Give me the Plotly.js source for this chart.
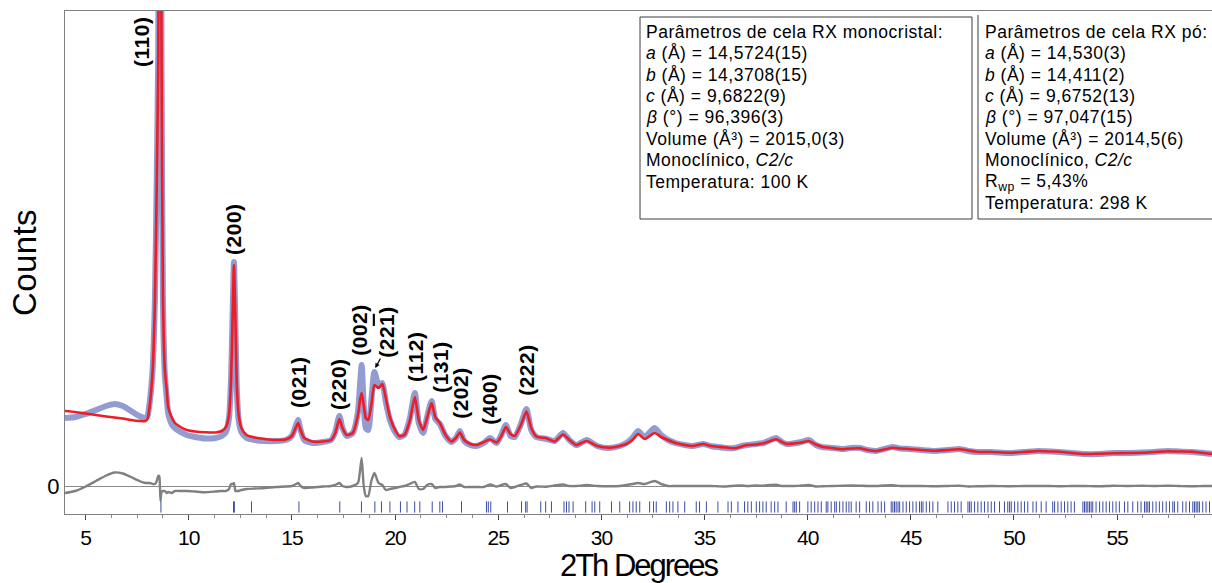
<!DOCTYPE html>
<html>
<head>
<meta charset="utf-8">
<script src="https://cdn.plot.ly/plotly-3.0.1.min.js"></script>
<style>
  html, body { margin: 0; padding: 0; background: #fff; }
  #chart { width: 1212px; height: 583px; }
  .annotation-text { letter-spacing: 0.5px; }
  .xtitle { letter-spacing: -2px; }
  .ytitle { letter-spacing: 0.4px; }
  .xtick text { letter-spacing: -1px; }
</style>
</head>
<body>
<div id="chart"></div>
<script>
// Powder pattern: 2θ grid, calculated (Rietveld fit) and observed counts
const twoTheta = [
  4.0, 4.5, 5.0, 5.5, 6.0, 6.4, 6.8, 7.2, 7.6, 7.9,
  8.0, 8.12, 8.25, 8.36, 8.45, 8.52, 8.57, 8.6, 8.63, 8.68,
  8.75, 8.84, 8.93, 9.0, 9.17, 9.33, 9.6, 9.9, 10.3, 10.8,
  11.3, 11.6, 11.8, 11.95, 12.05, 12.12, 12.19, 12.26, 12.33, 12.42,
  12.55, 12.8, 13.2, 13.7, 14.2, 14.7, 15.0, 15.2, 15.3, 15.42,
  15.6, 16.0, 16.5, 16.9, 17.1, 17.3, 17.45, 17.65, 17.95, 18.2,
  18.3, 18.38, 18.48, 18.58, 18.7, 18.85, 19.0, 19.2, 19.38, 19.55,
  19.75, 20.0, 20.2, 20.45, 20.7, 20.96, 21.15, 21.36, 21.55, 21.77,
  21.95, 22.17, 22.45, 22.73, 22.95, 23.14, 23.35, 23.65, 23.95, 24.3,
  24.6, 24.92, 25.15, 25.37, 25.6, 25.8, 26.1, 26.37, 26.6, 26.85,
  27.34, 27.74, 28.14, 28.45, 28.79, 29.29, 29.8, 30.4, 30.9, 31.21,
  31.5, 31.78, 32.1, 32.58, 32.9, 33.23, 33.6, 34.04, 34.43, 34.95,
  35.3, 35.64, 36.05, 36.46, 36.8, 37.07, 37.5, 37.87, 38.2, 38.48,
  38.75, 38.98, 39.3, 39.7, 40.05, 40.4, 40.7, 41.2, 41.7, 42.1,
  42.52, 42.9, 43.33, 43.7, 44.12, 44.5, 44.94, 45.5, 46.15, 46.8,
  47.36, 47.8, 48.17, 48.9, 49.78, 50.5, 51.19, 51.7, 52.2, 52.8,
  53.42, 54.1, 54.82, 55.5, 56.23, 56.8, 57.44, 58.0, 58.65, 59.2,
  59.6
];

const yCalc = [
  1500, 1480, 1450, 1420, 1390, 1370, 1350, 1320, 1300, 1300,
  1340, 1660, 2320, 3720, 6120, 8520, 14000, 15700, 14500, 8520,
  3720, 2320, 1920, 1580, 1380, 1260, 1180, 1120, 1090, 1074,
  1070, 1100, 1180, 1420, 2120, 3320, 4420, 3320, 2020, 1420,
  1160, 1020, 970, 940, 920, 930, 1000, 1180, 1260, 1120,
  960, 890, 890, 920, 1060, 1340, 1160, 1020, 1060, 1420,
  1720, 1860, 1620, 1360, 1320, 1620, 2020, 1960, 2040, 1760,
  1380, 1120, 1000, 1020, 1280, 1780, 1320, 1120, 1360, 1660,
  1380, 1260, 1020, 890, 960, 1070, 920, 840, 820, 880,
  930, 870, 1000, 1180, 1040, 1000, 1220, 1490, 1160, 990,
  954, 890, 1030, 920, 820, 900, 800, 766, 800, 840,
  920, 1040, 940, 1060, 980, 920, 860, 820, 800, 840,
  800, 786, 770, 754, 790, 820, 830, 854, 900, 934,
  880, 840, 850, 870, 900, 830, 786, 760, 734, 750,
  754, 720, 700, 730, 766, 750, 740, 720, 706, 720,
  734, 710, 686, 680, 666, 680, 700, 690, 686, 660,
  640, 646, 654, 660, 666, 680, 694, 690, 686, 660,
  640
];

const yObs = [
  1360, 1380, 1440, 1520, 1600, 1640, 1600, 1500, 1400, 1360,
  1400, 1720, 2360, 3760, 6220, 8720, 14200, 15700, 14200, 8400,
  3620, 2220, 1780, 1460, 1240, 1160, 1080, 1020, 980, 950,
  960, 1000, 1080, 1360, 2160, 3360, 4480, 3220, 1920, 1320,
  1080, 960, 920, 900, 900, 920, 1000, 1220, 1320, 1120,
  920, 860, 880, 920, 1080, 1400, 1160, 1000, 1060, 1480,
  2020, 2420, 1620, 1160, 1120, 1720, 2280, 2020, 2060, 1680,
  1320, 1080, 980, 1020, 1320, 1860, 1260, 1060, 1380, 1700,
  1340, 1240, 1000, 880, 960, 1100, 900, 820, 800, 860,
  960, 860, 1020, 1220, 1000, 980, 1240, 1540, 1120, 980,
  940, 900, 1060, 920, 820, 920, 800, 760, 800, 860,
  960, 1100, 980, 1160, 1020, 920, 860, 820, 800, 840,
  800, 780, 760, 760, 800, 820, 840, 860, 920, 960,
  880, 840, 850, 880, 920, 820, 780, 760, 740, 760,
  760, 720, 700, 740, 780, 750, 740, 720, 700, 720,
  740, 700, 680, 680, 660, 680, 700, 690, 680, 660,
  640, 640, 660, 660, 670, 680, 700, 690, 680, 660,
  640
];

// Bragg reflection positions (2θ) of the C2/c phase
const reflections = [
  8.65, 12.17, 12.21, 13.04, 15.34, 17.32, 18.37, 19.02, 19.34, 19.75,
  20.26, 20.58, 20.95, 21.2, 21.8, 22.17, 22.3, 23.22, 24.43, 24.52,
  24.64, 25.45, 26.13, 26.33, 26.4, 27.06, 27.3, 27.58, 28.19, 28.31,
  28.43, 28.63, 29.24, 29.55, 29.68, 29.92, 30.49, 30.89, 31.37, 31.53,
  31.69, 31.86, 32.34, 32.53, 32.66, 33.15, 33.31, 33.47, 33.71, 34.04,
  34.6, 34.76, 35.09, 35.65, 36.14, 36.3, 36.62, 36.94, 37.1, 37.27,
  37.51, 37.67, 37.83, 37.99, 38.23, 38.4, 38.56, 38.96, 39.29, 39.37,
  39.45, 39.61, 40.01, 40.17, 40.34, 40.5, 40.66, 40.9, 40.98, 41.14,
  41.31, 41.39, 41.55, 41.71, 41.87, 42.0, 42.11, 42.35, 42.52, 42.84,
  43.0, 43.16, 43.41, 43.57, 43.73, 44.05, 44.13, 44.21, 44.29, 44.38,
  44.46, 44.62, 44.78, 44.94, 45.1, 45.26, 45.42, 45.51, 45.59, 45.75,
  45.91, 46.07, 46.31, 46.8, 46.96, 47.12, 47.28, 47.44, 47.77, 47.85,
  47.93, 48.09, 48.25, 48.41, 48.57, 48.74, 48.9, 49.06, 49.3, 49.54,
  49.7, 49.79, 49.87, 50.03, 50.19, 50.35, 50.51, 50.67, 50.92, 51.08,
  51.32, 51.56, 51.88, 51.97, 52.13, 52.29, 52.45, 52.61, 52.77, 52.93,
  53.34, 53.42, 53.5, 53.58, 53.66, 53.74, 53.82, 53.98, 54.15, 54.31,
  54.47, 54.63, 54.79, 54.95, 55.11, 55.36, 55.52, 55.76, 56.0, 56.16,
  56.33, 56.41, 56.49, 56.57, 56.73, 56.89, 57.05, 57.21, 57.38, 57.54,
  57.7, 57.78, 57.94, 58.18, 58.34, 58.51, 58.67, 58.75, 58.83, 58.91,
  58.99, 59.15, 59.31, 59.48
];

// Miller indices of the labelled reflections and where their labels sit
const peakHkl = ['(110)', '(200)', '(021)', '(220)', '(002)',
  '(22<span style="text-decoration:overline">1</span>)',
  '(112)', '(131)', '(202)', '(400)', '(222)'];
const peakLabelX = [7.68, 12.14, 15.29, 17.23, 18.24, 19.55, 20.96, 22.17, 23.14, 24.54, 26.34];
const peakLabelY = [8880, 5140, 2080, 2040, 3120, 3080, 2580, 2380, 1860, 1740, 2320];

const xTickValues = [5, 10, 15, 20, 25, 30, 35, 40, 45, 50, 55];

// Cell parameter panels
const singleCrystalLines = [
  'Parâmetros de cela RX monocristal:',
  '<i>a</i> (Å) = 14,5724(15)',
  '<i>b</i> (Å) = 14,3708(15)',
  '<i>c</i> (Å) = 9,6822(9)',
  '<i>β</i> (°) = 96,396(3)',
  'Volume (Å³) = 2015,0(3)',
  'Monoclínico, <i>C2/c</i>',
  'Temperatura: 100 K'
];
const powderLines = [
  'Parâmetros de cela RX pó:',
  '<i>a</i> (Å) = 14,530(3)',
  '<i>b</i> (Å) = 14,411(2)',
  '<i>c</i> (Å) = 9,6752(13)',
  '<i>β</i> (°) = 97,047(15)',
  'Volume (Å³) = 2014,5(6)',
  'Monoclínico, <i>C2/c</i>',
  'R<sub>wp</sub> = 5,43%',
  'Temperatura: 298 K'
];

const FONT = 'Liberation Sans, Arial, sans-serif';
const yDiff = yObs.map((v, i) => v - yCalc[i]);
const reflectionLevel = reflections.map(() => -420);
const TICK_BLUE = '#3a4ca6';

const traces = [
  {
    x: twoTheta, y: yObs, type: 'scatter', mode: 'lines', name: 'Yobs',
    line: { color: 'rgba(58, 74, 170, 0.55)', width: 6, shape: 'spline', smoothing: 0.6 },
    hoverinfo: 'skip'
  },
  {
    x: twoTheta, y: yCalc, type: 'scatter', mode: 'lines', name: 'Ycalc',
    line: { color: '#ee1c25', width: 2.6, shape: 'spline', smoothing: 0.6 }
  },
  {
    x: twoTheta, y: yDiff, type: 'scatter', mode: 'lines', name: 'Diff',
    line: { color: '#808080', width: 2.4, shape: 'spline', smoothing: 0.6 }
  },
  {
    x: reflections, y: reflectionLevel, type: 'scatter', mode: 'markers', name: 'hkl',
    marker: { symbol: 'line-ns-open', size: 8, color: TICK_BLUE, line: { color: TICK_BLUE, width: 1 } }
  }
];

const annotations = [];
peakHkl.forEach((t, i) => {
  annotations.push({
    x: peakLabelX[i], y: peakLabelY[i], xref: 'x', yref: 'y',
    text: '<b>' + t + '</b>', textangle: -90, showarrow: false,
    font: { family: FONT, size: 21, color: '#000' }
  });
});
// small arrow tying the (22-1) label to its peak
annotations.push({
  x: 19.04, y: 2360, xref: 'x', yref: 'y', text: '', showarrow: true,
  ax: 6, ay: -11, arrowhead: 2, arrowsize: 0.8, arrowwidth: 1.2, arrowcolor: '#000'
});

function paperX(px) { return (px - 65) / 1147; }
function paperY(py) { return (514 - py) / 503; }

singleCrystalLines.forEach((t, i) => {
  annotations.push({
    x: paperX(644), y: paperY(31.5 + 21.5 * i), xref: 'paper', yref: 'paper',
    xanchor: 'left', yanchor: 'middle', text: t, showarrow: false,
    font: { family: FONT, size: 17.5, color: '#000' }
  });
});
powderLines.forEach((t, i) => {
  annotations.push({
    x: paperX(983), y: paperY(31.5 + 21.5 * i), xref: 'paper', yref: 'paper',
    xanchor: 'left', yanchor: 'middle', text: t, showarrow: false,
    font: { family: FONT, size: 17.5, color: '#000' }
  });
});

const boxLine = { color: '#3c3c3c', width: 1 };
const shapes = [
  { type: 'rect', xref: 'paper', yref: 'paper', x0: paperX(640), x1: paperX(972), y0: paperY(219), y1: paperY(17), line: boxLine },
  { type: 'line', xref: 'paper', yref: 'paper', x0: paperX(978), x1: paperX(978), y0: paperY(219), y1: paperY(15), line: boxLine },
  { type: 'line', xref: 'paper', yref: 'paper', x0: paperX(978), x1: 1.01, y0: paperY(219), y1: paperY(219), line: boxLine }
];

const layout = {
  width: 1212, height: 583,
  margin: { l: 65, r: 0, t: 11, b: 69 },
  paper_bgcolor: '#fff', plot_bgcolor: '#fff',
  showlegend: false,
  font: { family: FONT, color: '#000' },
  xaxis: {
    range: [4, 59.6], tickvals: xTickValues, ticks: 'outside', ticklen: 5, tickwidth: 1, tickcolor: '#444',
    minor: { dtick: 1.25, tick0: 0, ticks: 'outside', ticklen: 3, tickcolor: '#888' },
    showline: true, linecolor: '#808080', linewidth: 1, mirror: true,
    showgrid: false, zeroline: false,
    tickfont: { family: FONT, size: 21, color: '#000' },
    title: { text: '2Th Degrees', font: { family: FONT, size: 31, color: '#000' }, standoff: 9 }
  },
  yaxis: {
    range: [-560, 9500], tickvals: [0], ticktext: ['0'], ticks: '',
    showline: true, linecolor: '#808080', linewidth: 1,
    showgrid: false, zeroline: true, zerolinecolor: '#8a8a8a', zerolinewidth: 1,
    tickfont: { family: FONT, size: 22, color: '#000' },
    title: { text: 'Counts', font: { family: FONT, size: 33, color: '#000' }, standoff: 0 }
  },
  annotations: annotations,
  shapes: shapes
};

Plotly.newPlot('chart', traces, layout, { displayModeBar: false, staticPlot: true });
</script>
</body>
</html>
